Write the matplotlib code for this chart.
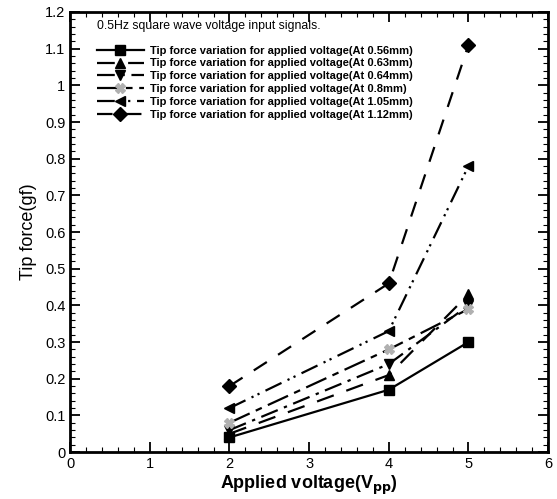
import matplotlib
matplotlib.use("Agg")
import matplotlib.pyplot as plt
from matplotlib.ticker import MultipleLocator

plt.rcParams['font.family'] = ['Liberation Sans', 'DejaVu Sans']

voltage = [2, 4, 5]
labels = [
    "Tip force variation for applied voltage(At 0.56mm)",
    "Tip force variation for applied voltage(At 0.63mm)",
    "Tip force variation for applied voltage(At 0.64mm)",
    "Tip force variation for applied voltage(At 0.8mm)",
    "Tip force variation for applied voltage(At 1.05mm)",
    "Tip force variation for applied voltage(At 1.12mm)",
]
f_056 = [0.04, 0.17, 0.30]
f_063 = [0.05, 0.21, 0.43]
f_064 = [0.06, 0.24, 0.40]
f_080 = [0.08, 0.28, 0.39]
f_105 = [0.12, 0.33, 0.78]
f_112 = [0.18, 0.46, 1.11]
series = [f_056, f_063, f_064, f_080, f_105, f_112]

styles = [
    dict(ls='-', marker='s', color='black', mfc='black', ms=7),
    dict(ls=(0, (8, 6)), marker='^', color='black', mfc='black', ms=7),
    dict(ls=(0, (8, 3, 1.5, 3)), marker='v', color='black', mfc='black', ms=7),
    dict(ls=(0, (10, 3, 3, 3)), marker='X', color='black', mfc='#b0b0b0', mec='#b0b0b0', ms=7),
    dict(ls=(0, (8, 3, 1, 2, 1, 3)), marker='<', color='black', mfc='black', ms=7),
    dict(ls=(0, (7, 6)), marker='D', color='black', mfc='black', ms=7),
]

fig = plt.figure(figsize=(5.57, 4.99), dpi=100)
ax = fig.add_axes([0.126, 0.094, 0.858, 0.882])

handles = []
for vals, lab, st in zip(series, labels, styles):
    h, = ax.plot(voltage, vals, lw=1.6, label=lab, **st)
    handles.append(h)

ax.set_xlim(0, 6)
ax.set_ylim(0, 1.2)
ax.xaxis.set_major_locator(MultipleLocator(1))
ax.xaxis.set_minor_locator(MultipleLocator(0.2))
ax.yaxis.set_minor_locator(MultipleLocator(0.02))
ax.set_yticks([0, 0.1, 0.2, 0.3, 0.4, 0.5, 0.6, 0.7, 0.8, 0.9, 1.0, 1.1, 1.2])
ax.set_yticklabels(['0', '0.1', '0.2', '0.3', '0.4', '0.5', '0.6', '0.7', '0.8', '0.9', '1', '1.1', '1.2'])
ax.tick_params(which='both', direction='in', top=True, right=True, labelsize=10.5)
ax.tick_params(which='major', length=7, width=1.3)
ax.tick_params(which='minor', length=3.5, width=0.8)
for sp in ax.spines.values():
    sp.set_linewidth(2)

ax.set_xlabel("Applied voltage(V$_{\\mathbf{pp}}$)", fontsize=13, fontweight='bold', labelpad=2)
ax.set_ylabel("Tip force(gf)", fontsize=13, labelpad=6)

leg = ax.legend(handles=handles, loc='upper left', bbox_to_anchor=(0.035, 1.005),
                frameon=False, fontsize=8, handlelength=4.2, handletextpad=0.55,
                labelspacing=0.25, title="0.5Hz square wave voltage input signals.",
                title_fontsize=8.8, alignment='left', markerscale=1.0)
for t in leg.get_texts():
    t.set_fontweight('bold')
leg._legend_box.sep = 10

fig.savefig("out.png", dpi=100)
